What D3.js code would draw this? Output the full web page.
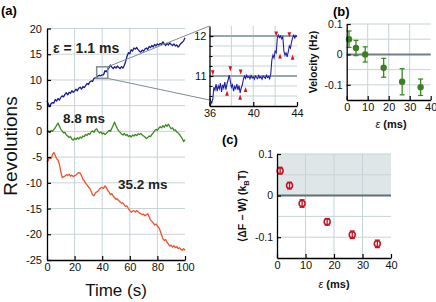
<!DOCTYPE html>
<html>
<head>
<meta charset="utf-8">
<script src="https://cdn.jsdelivr.net/npm/d3@7"></script>
<style>
  body { margin: 0; background: #fff; }
  text { font-family: "Liberation Sans", Arial, sans-serif; }
</style>
</head>
<body>
<svg width="436" height="302"></svg>
<script>
// ---- data ----
// (a) revolutions vs time, 1 s sampling
const timeSec = d3.range(0, 101);
const revs11 = [5.9,5.3,4.8,5.4,5.6,5.5,6.2,5.9,6.4,6.1,6.6,6.9,6.7,7.2,7.5,7.1,7.6,7.4,7.9,7.6,
  7.8,8.2,7.9,8.4,8.6,8.2,8.7,8.5,8.9,9.3,9.1,9.6,9.8,9.7,10.3,10.4,10.4,10.8,10.9,10.8,
  11.0,11.0,11.8,11.6,12.0,12.4,12.9,12.5,12.2,12.6,12.3,12.7,12.4,12.2,12.6,12.3,12.8,13.6,14.6,15.3,
  15.1,15.9,15.6,16.2,16.0,16.3,15.9,15.6,15.4,15.8,15.6,16.0,16.2,15.9,16.5,16.3,16.7,16.4,16.9,16.6,
  17.0,16.8,17.1,16.9,17.4,17.0,16.7,17.1,16.8,17.2,16.9,16.7,17.0,16.6,16.8,16.4,16.7,17.1,17.3,17.6,18.2];
const revs88 = [-0.1,0.1,-0.2,0.2,0.0,0.4,0.7,1.2,1.6,1.0,0.4,0.1,-0.3,-0.2,-0.7,-0.9,-1.2,-1.0,-1.5,-1.7,
  -1.3,-1.6,-1.2,-1.5,-1.1,-1.3,-0.9,-1.0,-0.6,-0.8,-0.4,-0.6,-0.1,0.1,-0.2,0.3,0.5,0.0,-0.3,-0.1,
  -0.5,-0.3,-0.6,-0.4,-0.1,0.2,0.0,0.6,1.2,1.8,1.1,0.5,0.1,-0.2,-0.5,-0.7,-0.4,-0.8,-0.6,-1.0,
  -0.8,-1.1,-0.7,-0.9,-0.6,-0.8,-0.5,-0.6,-0.4,-0.7,-0.9,-1.1,-1.4,-1.2,-0.9,-1.0,-0.6,-0.3,0.1,0.4,
  0.2,0.6,0.9,0.7,1.1,0.8,1.3,1.0,1.4,0.9,0.5,0.7,0.2,0.3,-0.1,-0.3,-0.6,-1.0,-1.4,-2.0,-1.6];
const revs352 = [-5.9,-5.6,-5.0,-5.3,-4.5,-4.1,-4.7,-5.3,-5.6,-6.4,-7.8,-9.0,-8.8,-8.7,-8.4,-8.6,-8.3,-8.7,-8.5,-8.8,
  -8.6,-8.5,-8.2,-8.0,-8.1,-8.6,-9.3,-9.6,-10.1,-10.4,-10.8,-11.1,-11.6,-12.3,-12.5,-12.0,-11.8,-11.6,-11.2,-11.0,
  -10.9,-11.1,-10.6,-10.9,-11.5,-11.8,-12.3,-12.1,-12.6,-12.9,-13.2,-13.1,-13.5,-13.7,-14.0,-13.9,-14.3,-14.6,-14.5,-15.0,
  -15.4,-15.7,-15.5,-15.4,-15.7,-15.4,-15.6,-15.9,-16.0,-16.2,-16.1,-16.4,-16.2,-16.0,-16.6,-17.2,-17.5,-17.8,-18.2,-18.0,
  -18.4,-18.7,-19.3,-20.1,-20.9,-21.2,-21.0,-21.6,-21.9,-22.3,-22.1,-22.5,-22.2,-22.6,-22.4,-22.8,-22.6,-22.9,-23.1,-22.8,-23.1];

// inset, 0.1 s sampling from 36 s to 44 s
const insetTime = d3.range(360, 441).map(d => d / 10);
const insetRevs = [10.45,10.38,10.32,10.42,10.72,10.65,10.80,10.62,10.75,10.68,
  10.82,10.60,10.78,10.70,10.85,10.66,10.80,10.90,11.02,10.88,
  10.72,10.78,10.62,10.74,10.68,10.80,10.65,10.76,10.58,10.70,
  10.78,10.92,11.00,10.94,11.02,10.96,10.99,10.93,11.01,10.95,
  10.98,10.92,11.00,10.96,10.93,11.01,10.95,10.98,10.92,11.00,
  10.97,10.94,11.02,10.96,10.99,10.93,11.05,11.40,11.52,11.45,
  11.62,11.58,11.95,12.02,11.96,12.00,11.93,11.98,11.62,11.52,
  11.58,11.48,11.60,11.75,11.70,11.85,11.96,12.02,11.95,12.01,11.98];
const stepDown = [[36.3, 11.1], [37.9, 11.2], [38.85, 11.12], [42.1, 12.07], [43.3, 12.05]];
const stepUp = [[37.6, 10.55], [38.8, 10.45], [39.3, 10.64], [42.45, 11.48], [43.6, 11.45]];

// (b) and (c)
const epsMs = [1.1, 4.4, 8.8, 17.6, 26.4, 35.2];
const velocityHz = [0.05, 0.021, 0.0, -0.044, -0.09, -0.108];
const velocityErr = [0.027, 0.025, 0.025, 0.031, 0.043, 0.027];
const dissipation = [0.06, 0.024, -0.019, -0.063, -0.094, -0.116];
const dissipationErr = [0.008, 0.008, 0.009, 0.008, 0.009, 0.009];

// ticks
const aTicksX = [0, 20, 40, 60, 80, 100];
const aTicksY = [-25, -20, -15, -10, -5, 0, 5, 10, 15, 20];
const insetTicksX = [36, 40, 44];
const insetTicksY = [11, 12];
const insetGrid = [10.5, 10.75, 11.25, 11.5, 11.75];
const epsTicks = [0, 10, 20, 30, 40];
const smallTicksY = [-0.1, 0, 0.1];
const smallGridY = [0.1, 0.05, -0.05, -0.1];

const gridColor = "#c6d3d6";
const svg = d3.select("svg");

function styleAxis(g, size) {
  g.attr("font-family", "Liberation Sans, Arial, sans-serif").attr("font-size", size);
  g.select(".domain").attr("stroke", "#000").attr("stroke-width", 1.3);
  g.selectAll(".tick line").attr("stroke", "#000").attr("stroke-width", 1.2);
  g.selectAll(".tick text").attr("fill", "#111");
}

function hgrid(g, x, y, vals, color, w) {
  g.append("g").selectAll("line").data(vals).join("line")
    .attr("x1", x.range()[0]).attr("x2", x.range()[1])
    .attr("y1", d => y(d)).attr("y2", d => y(d))
    .attr("stroke", color).attr("stroke-width", w);
}
function vgrid(g, x, y, vals, color, w) {
  g.append("g").selectAll("line").data(vals).join("line")
    .attr("x1", d => x(d)).attr("x2", d => x(d))
    .attr("y1", y.range()[0]).attr("y2", y.range()[1])
    .attr("stroke", color).attr("stroke-width", w);
}

// ---------- panel (a) ----------
const xa = d3.scaleLinear().domain([0, 100]).range([47, 185]);
const ya = d3.scaleLinear().domain([-25, 20]).range([260, 28.5]);

hgrid(svg, xa, ya, aTicksY.filter(d => d > -25), gridColor, 1);
vgrid(svg, xa, ya, [20, 40, 60, 80], gridColor, 1);

const lineA = d3.line().x((d, i) => xa(timeSec[i])).y(d => ya(d));
[[revs11, "#1b1b8a"], [revs88, "#3c8a1f"], [revs352, "#f2512a"]].forEach(([vals, c]) => {
  svg.append("path").attr("d", lineA(vals))
    .attr("fill", "none").attr("stroke", c).attr("stroke-width", 1.3)
    .attr("stroke-linejoin", "round");
});

svg.append("g").attr("transform", `translate(0,${ya(-25)})`)
  .call(d3.axisBottom(xa).tickValues(aTicksX).tickSize(-4).tickSizeOuter(0).tickPadding(3))
  .call(g => styleAxis(g, 11));
svg.append("g").attr("transform", `translate(${xa(0)},0)`)
  .call(d3.axisLeft(ya).tickValues(aTicksY).tickSize(-4).tickSizeOuter(0).tickPadding(5).tickFormat(d => String(d)))
  .call(g => styleAxis(g, 11));

svg.append("text").attr("x", 53).attr("y", 53).attr("font-size", 14).attr("font-weight", "bold")
  .attr("fill", "#222").text("\u03b5 = 1.1 ms");
svg.append("text").attr("x", 63).attr("y", 123).attr("font-size", 13.5).attr("font-weight", "bold")
  .attr("fill", "#222").text("8.8 ms");
svg.append("text").attr("x", 118).attr("y", 189).attr("font-size", 13.5).attr("font-weight", "bold")
  .attr("fill", "#222").text("35.2 ms");

svg.append("text").attr("transform", "translate(17,146) rotate(-90)").attr("text-anchor", "middle")
  .attr("font-size", 19).attr("fill", "#111").text("Revolutions");
svg.append("text").attr("x", 116).attr("y", 296).attr("text-anchor", "middle")
  .attr("font-size", 17).attr("fill", "#111").text("Time (s)");
svg.append("text").attr("x", 1).attr("y", 15).attr("font-size", 13).attr("font-weight", "bold").text("(a)");

// ---------- inset ----------
const xi = d3.scaleLinear().domain([36, 44]).range([209.5, 297]);
const yi = d3.scaleLinear().domain([10.25, 12.25]).range([106, 26]);

// zoom box and connector lines
const boxY = [10.3, 12.55];
svg.append("rect").attr("x", xa(36)).attr("y", ya(boxY[1]))
  .attr("width", xa(44) - xa(36)).attr("height", ya(boxY[0]) - ya(boxY[1]))
  .attr("fill", "none").attr("stroke", "#7d8d93").attr("stroke-width", 1.5);
svg.append("line").attr("x1", xa(44)).attr("y1", ya(boxY[1])).attr("x2", xi(36)).attr("y2", yi(12.25))
  .attr("stroke", "#7d8d93").attr("stroke-width", 1);
svg.append("line").attr("x1", xa(44)).attr("y1", ya(boxY[0])).attr("x2", xi(36)).attr("y2", yi(10.4))
  .attr("stroke", "#7d8d93").attr("stroke-width", 1);

svg.append("rect").attr("x", xi(36)).attr("y", yi(12.25)).attr("width", xi(44) - xi(36))
  .attr("height", yi(10.25) - yi(12.25)).attr("fill", "#fff");
hgrid(svg, xi, yi, insetGrid, gridColor, 1);
vgrid(svg, xi, yi, [38, 40, 42], gridColor, 1);
hgrid(svg, xi, yi, insetTicksY, "#97a7ab", 2);

svg.append("path")
  .attr("d", d3.line().x((d, i) => xi(insetTime[i])).y(d => yi(d))(insetRevs))
  .attr("fill", "none").attr("stroke", "#1f1fa0").attr("stroke-width", 1.1);

const tri = d3.symbol(d3.symbolTriangle, 9);
svg.append("g").selectAll("path").data(stepDown).join("path")
  .attr("d", tri).attr("fill", "#d4141c")
  .attr("transform", d => `translate(${xi(d[0])},${yi(d[1])}) rotate(180) scale(0.8,1.3)`);
svg.append("g").selectAll("path").data(stepUp).join("path")
  .attr("d", tri).attr("fill", "#d4141c")
  .attr("transform", d => `translate(${xi(d[0])},${yi(d[1])}) scale(0.8,1.3)`);

svg.append("g").attr("transform", `translate(0,${yi(10.25)})`)
  .call(d3.axisBottom(xi).tickValues(insetTicksX).tickSize(-4).tickSizeOuter(0).tickPadding(3))
  .call(g => styleAxis(g, 11));
svg.append("g").attr("transform", `translate(${xi(36)},0)`)
  .call(d3.axisLeft(yi).tickValues(insetTicksY).tickSize(-4).tickSizeOuter(0).tickPadding(3).tickFormat(d => String(d)))
  .call(g => styleAxis(g, 11));
svg.append("g").attr("transform", `translate(${xi(36)},0)`)
  .call(d3.axisLeft(yi).tickValues(insetGrid).tickSize(-3).tickSizeOuter(0).tickFormat(""))
  .call(g => { g.select(".domain").remove(); g.selectAll("line").attr("stroke", "#000"); });

// ---------- panel (b) ----------
const xb = d3.scaleLinear().domain([0, 40]).range([346.7, 430.7]);
const yb = d3.scaleLinear().domain([-0.15, 0.1]).range([100, 24]);

hgrid(svg, xb, yb, smallGridY, gridColor, 1);
vgrid(svg, xb, yb, [10, 20, 30], gridColor, 1);
hgrid(svg, xb, yb, [0], "#6f8086", 2);

const bPts = epsMs.map((e, i) => ({ e, v: velocityHz[i], s: velocityErr[i] }));
const gb = svg.append("g").attr("stroke", "#3b8a22").attr("stroke-width", 1.3);
gb.selectAll(".eb").data(bPts).join("line").attr("class", "eb")
  .attr("x1", d => xb(d.e)).attr("x2", d => xb(d.e))
  .attr("y1", d => yb(d.v - d.s)).attr("y2", d => yb(d.v + d.s));
gb.selectAll(".cap").data(bPts.flatMap(d => [[d.e, d.v - d.s], [d.e, d.v + d.s]])).join("line").attr("class", "cap")
  .attr("x1", d => xb(d[0]) - 2.5).attr("x2", d => xb(d[0]) + 2.5)
  .attr("y1", d => yb(d[1])).attr("y2", d => yb(d[1]));
gb.selectAll("circle").data(bPts).join("circle")
  .attr("cx", d => xb(d.e)).attr("cy", d => yb(d.v)).attr("r", 3.2)
  .attr("fill", "#3a7f22").attr("stroke", "none");

svg.append("g").attr("transform", `translate(0,${yb(-0.15)})`)
  .call(d3.axisBottom(xb).tickValues(epsTicks).tickSize(-4).tickSizeOuter(0).tickPadding(3))
  .call(g => styleAxis(g, 11));
svg.append("g").attr("transform", `translate(${xb(0)},0)`)
  .call(d3.axisLeft(yb).tickValues(smallTicksY).tickSize(-4).tickSizeOuter(0).tickPadding(4).tickFormat(d => String(d)))
  .call(g => styleAxis(g, 10.5));

svg.append("text").attr("transform", "translate(317,62) rotate(-90)").attr("text-anchor", "middle")
  .attr("font-size", 10.5).attr("font-weight", "bold").attr("fill", "#111").text("Velocity (Hz)");
const ebl = svg.append("text").attr("x", 391).attr("y", 128).attr("text-anchor", "middle")
  .attr("font-size", 11).attr("fill", "#111");
ebl.append("tspan").attr("font-style", "italic").text("\u03b5 ");
ebl.append("tspan").attr("font-weight", "bold").text("(ms)");
svg.append("text").attr("x", 333).attr("y", 16).attr("font-size", 13).attr("font-weight", "bold").text("(b)");

// ---------- panel (c) ----------
const xc = d3.scaleLinear().domain([0, 40]).range([277, 391]);
const yc = d3.scaleLinear().domain([-0.15, 0.1]).range([258, 154]);

svg.append("rect").attr("x", xc(0)).attr("y", yc(0.1)).attr("width", xc(40) - xc(0))
  .attr("height", yc(0) - yc(0.1)).attr("fill", "#dfe6e7");
hgrid(svg, xc, yc, smallGridY, gridColor, 1);
vgrid(svg, xc, yc, [10, 20, 30], gridColor, 1);
hgrid(svg, xc, yc, [0], "#5f7077", 2);

const cPts = epsMs.map((e, i) => ({ e, v: dissipation[i], s: dissipationErr[i] }));
const gc = svg.append("g").attr("stroke", "#c8101e").attr("stroke-width", 1.3);
gc.selectAll(".eb").data(cPts).join("line").attr("class", "eb")
  .attr("x1", d => xc(d.e)).attr("x2", d => xc(d.e))
  .attr("y1", d => yc(d.v - d.s)).attr("y2", d => yc(d.v + d.s));
gc.selectAll(".cap").data(cPts.flatMap(d => [[d.e, d.v - d.s], [d.e, d.v + d.s]])).join("line").attr("class", "cap")
  .attr("x1", d => xc(d[0]) - 2.5).attr("x2", d => xc(d[0]) + 2.5)
  .attr("y1", d => yc(d[1])).attr("y2", d => yc(d[1]));
gc.selectAll("circle").data(cPts).join("circle")
  .attr("cx", d => xc(d.e)).attr("cy", d => yc(d.v)).attr("r", 3)
  .attr("fill", "none").attr("stroke-width", 1.5);

svg.append("g").attr("transform", `translate(0,${yc(-0.15)})`)
  .call(d3.axisBottom(xc).tickValues(epsTicks).tickSize(-4).tickSizeOuter(0).tickPadding(3))
  .call(g => styleAxis(g, 11));
svg.append("g").attr("transform", `translate(${xc(0)},0)`)
  .call(d3.axisLeft(yc).tickValues(smallTicksY).tickSize(-4).tickSizeOuter(0).tickPadding(4).tickFormat(d => String(d)))
  .call(g => styleAxis(g, 10.5));

const cyl = svg.append("text").attr("transform", "translate(246,206) rotate(-90)").attr("text-anchor", "middle")
  .attr("font-size", 10.5).attr("font-weight", "bold").attr("fill", "#111");
cyl.append("tspan").text("\u27e8\u0394F \u2212 W\u27e9 (k");
cyl.append("tspan").attr("font-size", 7.5).attr("dy", 2.5).text("B");
cyl.append("tspan").attr("dy", -2.5).text("T)");
const ecl = svg.append("text").attr("x", 334).attr("y", 288).attr("text-anchor", "middle")
  .attr("font-size", 11).attr("fill", "#111");
ecl.append("tspan").attr("font-style", "italic").text("\u03b5 ");
ecl.append("tspan").attr("font-weight", "bold").text("(ms)");
svg.append("text").attr("x", 222).attr("y", 144).attr("font-size", 13).attr("font-weight", "bold").text("(c)");
</script>
</body>
</html>
